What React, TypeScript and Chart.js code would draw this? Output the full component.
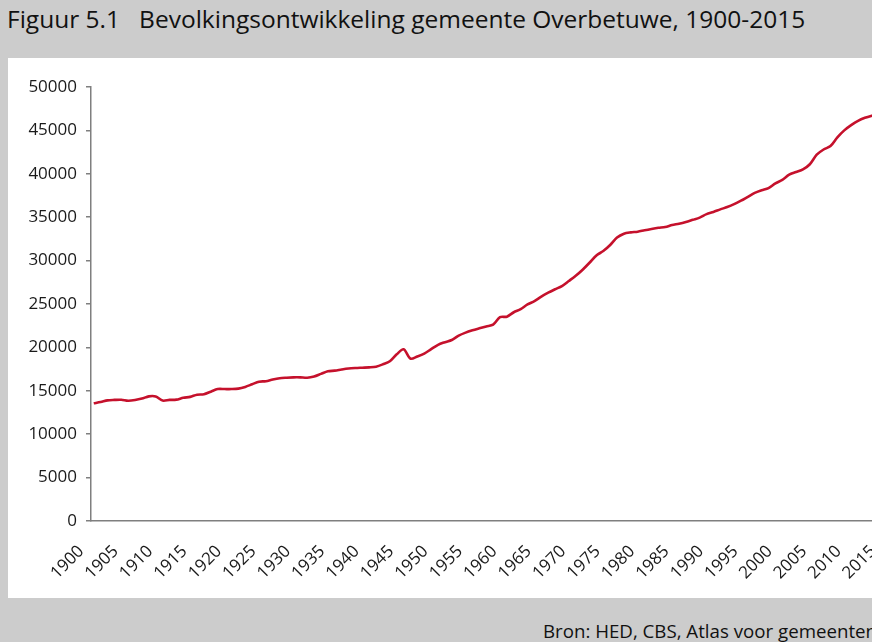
import React, { useEffect, useRef } from "react";
import { Chart, registerables } from "chart.js";

Chart.register(...registerables);

const years = [
  1900, 1901, 1902, 1903, 1904, 1905, 1906, 1907, 1908, 1909,
  1910, 1911, 1912, 1913, 1914, 1915, 1916, 1917, 1918, 1919,
  1920, 1921, 1922, 1923, 1924, 1925, 1926, 1927, 1928, 1929,
  1930, 1931, 1932, 1933, 1934, 1935, 1936, 1937, 1938, 1939,
  1940, 1941, 1942, 1943, 1944, 1945, 1946, 1947, 1948, 1949,
  1950, 1951, 1952, 1953, 1954, 1955, 1956, 1957, 1958, 1959,
  1960, 1961, 1962, 1963, 1964, 1965, 1966, 1967, 1968, 1969,
  1970, 1971, 1972, 1973, 1974, 1975, 1976, 1977, 1978, 1979,
  1980, 1981, 1982, 1983, 1984, 1985, 1986, 1987, 1988, 1989,
  1990, 1991, 1992, 1993, 1994, 1995, 1996, 1997, 1998, 1999,
  2000, 2001, 2002, 2003, 2004, 2005, 2006, 2007, 2008, 2009,
  2010, 2011, 2012, 2013, 2014, 2015,
];

const population = [
  13560, 13700, 13900, 13950, 13970, 13850, 13930, 14100, 14360, 14350,
  13870, 13950, 13980, 14200, 14300, 14550, 14600, 14900, 15200, 15200,
  15200, 15250, 15450, 15750, 16050, 16100, 16300, 16450, 16510, 16550,
  16550, 16510, 16650, 16950, 17250, 17320, 17450, 17560, 17620, 17660,
  17700, 17780, 18050, 18400, 19200, 19780, 18700, 18950, 19280, 19800,
  20300, 20600, 20850, 21350, 21700, 21970, 22200, 22420, 22620, 23480,
  23540, 24050, 24400, 24950, 25330, 25850, 26300, 26700, 27070, 27650,
  28250, 28950, 29750, 30600, 31100, 31800, 32650, 33100, 33250, 33330,
  33500, 33650, 33780, 33870, 34100, 34250, 34450, 34700, 34950, 35350,
  35600, 35900, 36170, 36500, 36900, 37350, 37800, 38100, 38350, 38900,
  39300, 39900, 40200, 40500, 41100, 42200, 42800, 43200, 44200, 45000,
  45600, 46100, 46450, 46700, 46900, 47100,
];

const xMin = 1899.6;
const xMax = 2015;
const xStep = 5;
const yMax = 50000;
const yStep = 5000;

const titleText = "Figuur 5.1\u00a0\u00a0\u00a0Bevolkingsontwikkeling gemeente Overbetuwe, 1900-2015";
const sourceText = "Bron: HED, CBS, Atlas voor gemeenten";

const FONT = "'Open Sans', 'Noto Sans', sans-serif";

export default function App() {
  const canvasRef = useRef<HTMLCanvasElement | null>(null);

  useEffect(() => {
    const canvas = canvasRef.current;
    if (!canvas) return;
    const points = years.map((yr, i) => ({ x: yr, y: population[i] }));
    const chart = new Chart(canvas, {
      type: "line",
      data: {
        datasets: [
          {
            data: points,
            borderColor: "#c5112c",
            borderWidth: 2.6,
            pointRadius: 0,
            tension: 0.3,
            fill: false,
          },
        ],
      },
      options: {
        responsive: false,
        animation: false,
        layout: { padding: { top: 29, right: 17, bottom: 0, left: 0 } },
        plugins: {
          legend: { display: false },
          tooltip: { enabled: false },
          title: { display: false },
        },
        scales: {
          x: {
            type: "linear",
            min: xMin,
            max: xMax,
            grid: { display: false, drawTicks: false },
            border: { display: true, color: "#7f7f7f", width: 1.5 },
            ticks: {
              stepSize: xStep,
              includeBounds: false,
              autoSkip: false,
              maxRotation: 45,
              minRotation: 45,
              padding: 8,
              color: "#1a1a1a",
              font: { family: FONT, size: 17 },
              callback: (v: any) => String(v) + "\u00a0\u00a0\u00a0\u00a0",
            },
            afterFit: (s: any) => {
              s.height = 77;
            },
          },
          y: {
            min: 0,
            max: yMax,
            grid: {
              drawOnChartArea: false,
              drawTicks: true,
              tickLength: 5,
              color: "#7f7f7f",
              lineWidth: 1.5,
            },
            border: { display: true, color: "#7f7f7f", width: 1.5 },
            ticks: {
              stepSize: yStep,
              padding: 9,
              color: "#1a1a1a",
              font: { family: FONT, size: 17 },
              callback: (v: any) => String(v),
            },
            afterFit: (s: any) => {
              s.width = 83;
            },
          },
        },
      },
    });
    return () => chart.destroy();
  }, []);

  return (
    <div
      style={{
        position: "absolute",
        left: 0,
        top: 0,
        width: 872,
        height: 642,
        overflow: "hidden",
        background: "#cccccc",
        fontFamily: FONT,
      }}
    >
      <div
        style={{
          position: "absolute",
          left: 7,
          top: 2,
          fontSize: 24.5,
          lineHeight: "34px",
          color: "#111",
          whiteSpace: "nowrap",
        }}
      >
        {titleText}
      </div>
      <div
        style={{
          position: "absolute",
          left: 8,
          top: 58,
          width: 900,
          height: 540,
          background: "#ffffff",
        }}
      >
        <canvas ref={canvasRef} width={900} height={540} style={{ display: "block" }} />
      </div>
      <div
        style={{
          position: "absolute",
          left: 543,
          top: 618,
          fontSize: 18.7,
          lineHeight: "26px",
          color: "#111",
          whiteSpace: "nowrap",
        }}
      >
        {sourceText}
      </div>
    </div>
  );
}
